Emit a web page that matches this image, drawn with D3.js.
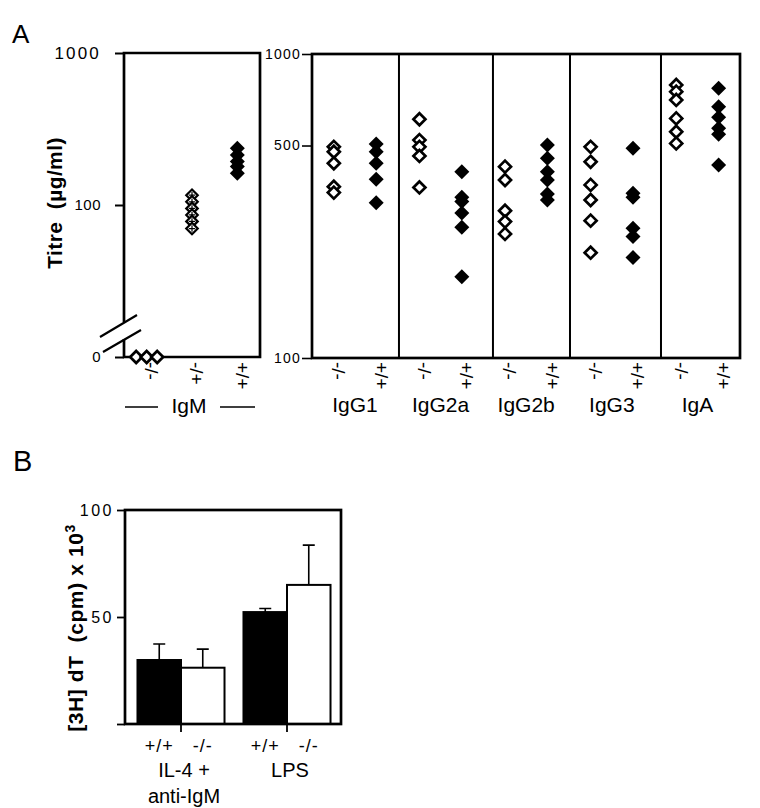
<!DOCTYPE html>
<html><head><meta charset="utf-8">
<script src="https://cdn.jsdelivr.net/npm/d3@7"></script>
<style>
body{margin:0;background:#fff;}
svg{display:block;font-family:"Liberation Sans",Arial,Helvetica,sans-serif;}
</style></head><body>
<svg id="chart" width="760" height="808"></svg>
<script>
// ---------------- DATA ----------------
// Panel A, left: IgM titres (µg/ml); 0 = undetectable
const igmGenotypes = ["-/-", "-/+", "+/+"];
const igmKO  = [0, 0, 0];
const igmHet = [116, 105, 95, 86, 78, 70];
const igmWT  = [236, 213, 193, 179, 162];
const leftTicks = [1000, 100, 10];          // 10 is shown as "0" (axis break)

// Panel A, right: other isotypes (µg/ml)
const isotypes  = ["IgG1", "IgG2a", "IgG2b", "IgG3", "IgA"];
const genotypes = ["-/-", "+/+"];
const koIgG1  = [495, 477, 437, 366, 350];
const wtIgG1  = [506, 477, 437, 387, 324];
const koIgG2a = [610, 521, 495, 462, 364];
const wtIgG2a = [410, 338, 327, 300, 269, 185];
const koIgG2b = [426, 385, 305, 281, 256];
const wtIgG2b = [502, 454, 410, 385, 346, 331];
const koIgG3  = [495, 442, 371, 331, 283, 222];
const wtIgG3  = [490, 348, 338, 267, 251, 214];
const koIgA   = [791, 752, 706, 614, 555, 508];
const wtIgA   = [771, 671, 619, 570, 545, 431];
const rightTicks = [1000, 500, 100];
const dividers = [1.016, 2.114, 3.014, 4.077]; // group divider lines, in group units

// Panel B: [3H] dT incorporation (cpm x 10^3)
const bConditions = [["IL-4 +", "anti-IgM"], ["LPS"]];
const bGenotypes  = ["+/+", "-/-"];
const bMeanWT = [29.9, 52.3];
const bErrWT  = [7.5, 1.7];
const bMeanKO = [26.3, 65.0];
const bErrKO  = [8.7, 18.6];
const bTicks  = [0, 50, 100];

// ---------------- DRAWING ----------------
const svg = d3.select("#chart");
const FONT = '"Liberation Sans",Arial,Helvetica,sans-serif';

const diamondType = {
  draw(ctx, size) {
    const r = Math.sqrt(size) / 2;
    ctx.moveTo(0, -r); ctx.lineTo(r, 0); ctx.lineTo(0, r); ctx.lineTo(-r, 0); ctx.closePath();
  }
};
const diamond = s => d3.symbol().type(diamondType).size(s * s)();

function drawPoints(g, pts, kind) {
  pts.forEach(p => {
    const t = g.append("g").attr("transform", `translate(${p.x},${p.y})`);
    if (kind === "open") {
      t.append("path").attr("d", diamond(12)).attr("fill", "#fff").attr("stroke", "#000").attr("stroke-width", 2.7);
    } else if (kind === "filled") {
      t.append("path").attr("d", diamond(15)).attr("fill", "#000");
    } else if (kind === "het") {
      t.append("path").attr("d", diamond(11.5)).attr("fill", "#fff").attr("stroke", "#000").attr("stroke-width", 2.2);
      t.append("path").attr("d", "M-3.2,0H3.2M0,-3.2V3.2").attr("stroke", "#000").attr("stroke-width", 1.2);
    }
  });
}

function rotLabel(g, x, y, txt, size) {
  g.append("text")
    .attr("transform", `translate(${x},${y}) rotate(90)`)
    .attr("dy", "0.35em")
    .attr("font-size", size)
    .attr("text-anchor", "start")
    .text(txt);
}

// Panel letters
svg.append("text").attr("x", 12).attr("y", 43).attr("font-size", 26).text("A");
svg.append("text").attr("x", 13).attr("y", 471).attr("font-size", 29).text("B");

// ---- Panel A left (IgM) ----
{
  const x0 = 124, x1 = 260, yTop = 53, yBot = 357;
  const y = d3.scaleLog().domain([10, 1000]).range([yBot, yTop]);
  const x = d3.scaleBand().domain(igmGenotypes).range([x0, x1]);
  const yv = v => (v <= 0 ? y(10) : y(v));
  const g = svg.append("g");

  // frame with break gap on left axis
  g.append("path")
    .attr("d", `M${x0},${yBot - 35}V${yTop}H${x1}V${yBot}H${x0}V${yBot - 18}`)
    .attr("fill", "none").attr("stroke", "#000").attr("stroke-width", 2.7);
  // break marks
  g.append("path")
    .attr("d", `M${x0 - 24},${yBot - 20}L${x0 + 13},${yBot - 42}M${x0 - 21},${yBot - 5}L${x0 + 17},${yBot - 27}`)
    .attr("stroke", "#000").attr("stroke-width", 2.2).attr("fill", "none");

  const ax = g.append("g").attr("transform", `translate(${x0},0)`)
    .call(d3.axisLeft(y).tickValues(leftTicks).tickSize(9).tickPadding(14)
      .tickFormat(d => (d === 10 ? "0" : d3.format("d")(d))));
  ax.select(".domain").remove();
  ax.selectAll("line").attr("stroke-width", 2);
  ax.selectAll("text").attr("font-family", FONT).attr("fill", "#000")
    .attr("font-size", d => (d === 1000 ? 17 : 15))
    .attr("letter-spacing", d => (d === 1000 ? 2.2 : 0.5));

  // y label
  g.append("text")
    .attr("transform", `translate(62,${(yTop + yBot) / 2 - 2}) rotate(-90)`)
    .attr("text-anchor", "middle").attr("font-weight", "bold").attr("font-size", 21)
    .attr("letter-spacing", 0.4)
    .text("Titre\u00a0\u00a0(\u00b5g/ml)");

  // points
  const cKO = x("-/-") + x.bandwidth() / 2;
  drawPoints(g, igmKO.map((v, i) => ({ x: cKO + (i - 1) * 10.5, y: yv(v) })), "open");
  const cHet = x("-/+") + x.bandwidth() / 2;
  drawPoints(g, igmHet.map(v => ({ x: cHet, y: yv(v) })), "het");
  const cWT = x("+/+") + x.bandwidth() / 2;
  drawPoints(g, igmWT.map(v => ({ x: cWT, y: yv(v) })), "filled");

  // rotated genotype labels
  igmGenotypes.forEach(gt => rotLabel(g, x(gt) + x.bandwidth() / 2 + 5, 362, gt, 19));

  // IgM group label with lines
  const cx = (x0 + x1) / 2 - 3;
  g.append("text").attr("x", cx).attr("y", 413).attr("text-anchor", "middle").attr("font-size", 21).text("IgM");
  g.append("path").attr("d", `M${x0 + 1},407H${x0 + 34}M${x1 - 40},407H${x1 - 5}`)
    .attr("stroke", "#000").attr("stroke-width", 1.6);
}

// ---- Panel A right (other isotypes) ----
{
  const x0 = 312, x1 = 740, yTop = 54, yBot = 358;
  const y = d3.scaleLog().domain([100, 1000]).range([yBot, yTop]);
  const xg = d3.scaleLinear().domain([0, isotypes.length]).range([x0, x1]);
  const colOffset = { "-/-": 0.255, "+/+": 0.75 };
  const g = svg.append("g");
  const ko = [koIgG1, koIgG2a, koIgG2b, koIgG3, koIgA];
  const wt = [wtIgG1, wtIgG2a, wtIgG2b, wtIgG3, wtIgA];

  g.append("rect").attr("x", x0).attr("y", yTop).attr("width", x1 - x0).attr("height", yBot - yTop)
    .attr("fill", "none").attr("stroke", "#000").attr("stroke-width", 2.7);
  dividers.forEach(d => {
    g.append("line").attr("x1", xg(d)).attr("x2", xg(d)).attr("y1", yTop).attr("y2", yBot)
      .attr("stroke", "#000").attr("stroke-width", 2);
  });

  const ax = g.append("g").attr("transform", `translate(${x0},0)`)
    .call(d3.axisLeft(y).tickValues(rightTicks).tickSize(10).tickPadding(1).tickFormat(d3.format("d")));
  ax.select(".domain").remove();
  ax.selectAll("line").attr("stroke-width", 1.6);
  ax.selectAll("text").attr("font-family", FONT).attr("fill", "#000").attr("font-size", 14).attr("letter-spacing", 1.2);

  isotypes.forEach((iso, i) => {
    const xk = xg(i + colOffset["-/-"]), xw = xg(i + colOffset["+/+"]);
    drawPoints(g, ko[i].map(v => ({ x: xk, y: y(v) })), "open");
    drawPoints(g, wt[i].map(v => ({ x: xw, y: y(v) })), "filled");
    genotypes.forEach(gt => rotLabel(g, xg(i + colOffset[gt]) + 5, 362, gt, 19));
    g.append("text").attr("x", (xk + xw) / 2).attr("y", 412).attr("text-anchor", "middle")
      .attr("font-size", 21).text(iso);
  });
}

// ---- Panel B (bar chart) ----
{
  const x0 = 125, x1 = 341, yTop = 510, yBot = 724;
  const y = d3.scaleLinear().domain([0, 100]).range([yBot, yTop]);
  const condIdx = bConditions.map((c, i) => i);
  const xg = d3.scaleBand().domain(condIdx).range([128, 340]);
  const xi = d3.scaleBand().domain(bGenotypes).range([0, xg.bandwidth()]).paddingOuter(0.218);
  const g = svg.append("g");

  const bars = [];
  condIdx.forEach(i => {
    bars.push({ c: i, gt: "+/+", v: bMeanWT[i], e: bErrWT[i], fill: "#000" });
    bars.push({ c: i, gt: "-/-", v: bMeanKO[i], e: bErrKO[i], fill: "#fff" });
  });

  // error bars (upper only)
  bars.forEach(b => {
    const cx = xg(b.c) + xi(b.gt) + xi.bandwidth() / 2;
    g.append("path")
      .attr("d", `M${cx},${y(b.v)}V${y(b.v + b.e)}M${cx - 6},${y(b.v + b.e)}H${cx + 6}`)
      .attr("stroke", "#000").attr("stroke-width", 1.6).attr("fill", "none");
  });
  bars.forEach(b => {
    g.append("rect").attr("x", xg(b.c) + xi(b.gt)).attr("y", y(b.v))
      .attr("width", xi.bandwidth()).attr("height", y(0) - y(b.v))
      .attr("fill", b.fill).attr("stroke", "#000").attr("stroke-width", 2);
  });

  g.append("rect").attr("x", x0).attr("y", yTop).attr("width", x1 - x0).attr("height", yBot - yTop)
    .attr("fill", "none").attr("stroke", "#000").attr("stroke-width", 2.7);

  const ax = g.append("g").attr("transform", `translate(${x0},0)`)
    .call(d3.axisLeft(y).tickValues(bTicks).tickSize(8).tickPadding(3).tickFormat(d => (d === 0 ? "" : d)));
  ax.select(".domain").remove();
  ax.selectAll("line").attr("stroke-width", 1.8);
  ax.selectAll("text").attr("font-family", FONT).attr("fill", "#000").attr("font-size", 16).attr("letter-spacing", 2.5);

  const axb = g.append("g").attr("transform", `translate(0,${yBot})`)
    .call(d3.axisBottom(xg).tickSize(8).tickFormat(""));
  axb.select(".domain").remove();
  axb.selectAll("line").attr("stroke-width", 1.8);

  // genotype labels
  bars.forEach(b => {
    g.append("text").attr("x", xg(b.c) + xi(b.gt) + xi.bandwidth() / 2).attr("y", 752)
      .attr("text-anchor", "middle").attr("font-size", 18).attr("letter-spacing", 1).text(b.gt);
  });
  // condition labels
  condIdx.forEach(i => {
    bConditions[i].forEach((line, j) => {
      g.append("text").attr("x", xg(i) + xg.bandwidth() / 2 + 3).attr("y", 777 + j * 26)
        .attr("text-anchor", "middle").attr("font-size", 20).text(line);
    });
  });

  // y label
  const lab = g.append("text")
    .attr("transform", `translate(83,${(yTop + yBot) / 2 + 11}) rotate(-90)`)
    .attr("text-anchor", "middle").attr("font-weight", "bold").attr("font-size", 21)
    .attr("letter-spacing", 0.6);
  lab.append("tspan").text("[3H] dT\u00a0\u00a0(cpm) x 10");
  lab.append("tspan").attr("font-size", 14).attr("dy", -8).text("3");
}
</script>
</body></html>
